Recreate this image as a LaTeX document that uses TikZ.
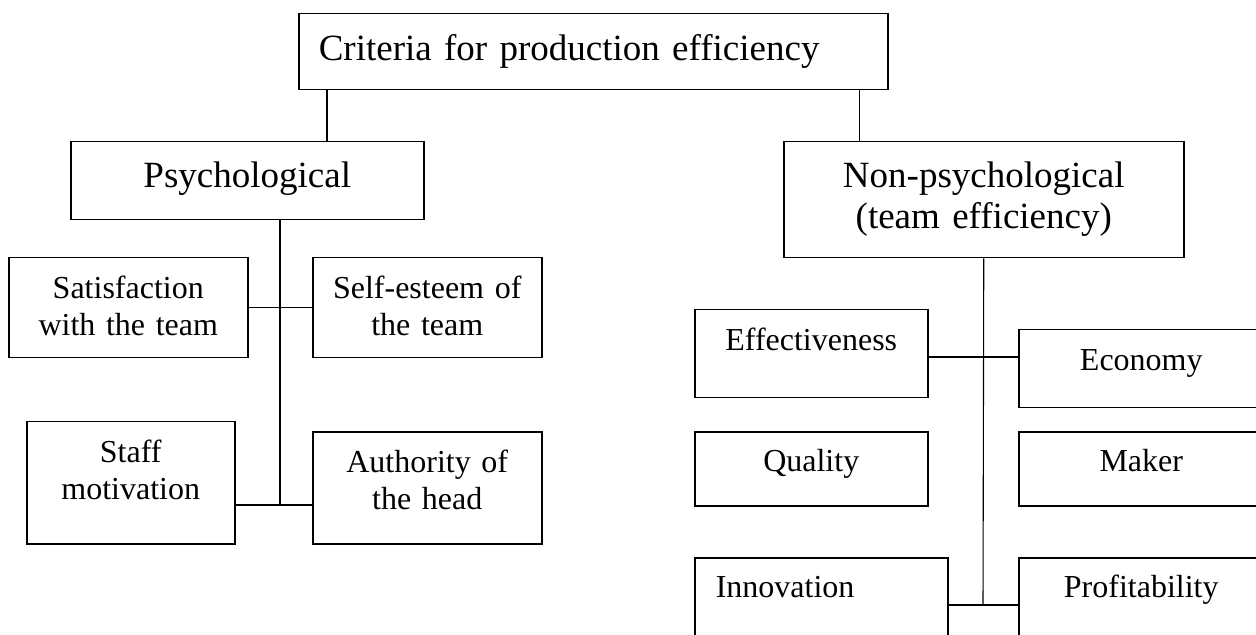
\documentclass[tikz,border=0pt]{standalone}
\usepackage{fontspec}
\setmainfont{Liberation Serif}
\usetikzlibrary{positioning,calc}
\newcommand\bigtxt{\fontsize{18.5pt}{20.5pt}\selectfont}
\newcommand\smalltxt{\fontsize{16pt}{18.5pt}\selectfont}
\tikzset{
  box/.style={draw, line width=0.75pt, anchor=north west, inner sep=0pt, align=center},
  bigbox/.style={box, font=\bigtxt},
  smallbox/.style={box, font=\smalltxt},
  link/.style={black, line width=0.55pt}
}

\begin{document}
\begin{tikzpicture}[x=0.5pt, y=-0.5pt]
\useasboundingbox (0,0) rectangle (1256,635);
\clip (0,0) rectangle (1256,635);

\node[bigbox, align=left, inner xsep=10pt, text width=274.5pt,
  text height=23.5pt, text depth=14.5pt](crit) at (298,13)
{Criteria for production efficiency};

\node[bigbox, text width=176.5pt, text height=23pt, text depth=16pt](psy) at (70,141)
{Psychological};

\node[bigbox, text width=200pt, text height=23pt, text depth=35pt](non) at (783,141)
{Non-psychological\\(team efficiency)};

% psychological side
\node[smallbox, text width=119.5pt, text height=20.5pt, text depth=29.5pt](sat) at (8,257)
{Satisfaction\\with the team};
\node[smallbox, text width=114.5pt, text height=20.5pt, text depth=29.5pt](self) at (312,257)
{Self-esteem of\\the team};
\node[smallbox, text width=104pt, text height=20.5pt, text depth=40.5pt](staff) at (26,421)
{Staff\\motivation};
\node[smallbox, text width=114.5pt, text height=20.5pt, text depth=35.5pt](auth) at (312,431)
{Authority of\\the head};

% non-psychological side
\node[smallbox, text width=116.5pt, text height=20.5pt, text depth=23.5pt](eff) at (694,309)
{Effectiveness};
\node[smallbox, text width=122.5pt, text height=20.5pt, text depth=18.5pt](eco) at (1018,329)
{Economy};
\node[smallbox, text width=116.5pt, text height=20pt, text depth=17pt](qual) at (694,431)
{Quality};
\node[smallbox, text width=122.5pt, text height=20pt, text depth=17pt](maker) at (1018,431)
{Maker};
\node[smallbox, align=left, inner xsep=10.5pt, text width=105.5pt,
  text height=20pt, text depth=26.5pt](innov) at (694,557)
{Innovation};
\node[smallbox, text width=122.5pt, text height=20pt, text depth=26.5pt](prof) at (1018,557)
{Profitability};

\coordinate (ca) at ([xshift=14.5pt]crit.south west);
\coordinate (cb) at ([xshift=-14.5pt]crit.south east);
\coordinate (pj) at (280,505);
\coordinate (ne) at (983,357);
\coordinate (nj) at (983,605);

\draw[link] (ca) -- (ca |- psy.north);
\draw[link] (cb) -- (cb |- non.north);

\draw[link] (psy.south -| pj) -- (pj);
\draw[link] (sat.east) -- (self.west);
\draw[link] (staff.east |- pj) -- (auth.west |- pj);

\draw[link] (non.south) -- (nj);
\draw[link] (eff.east |- ne) -- (eco.west |- ne);
\draw[link] (innov.east |- nj) -- (prof.west |- nj);
\end{tikzpicture}
\end{document}
